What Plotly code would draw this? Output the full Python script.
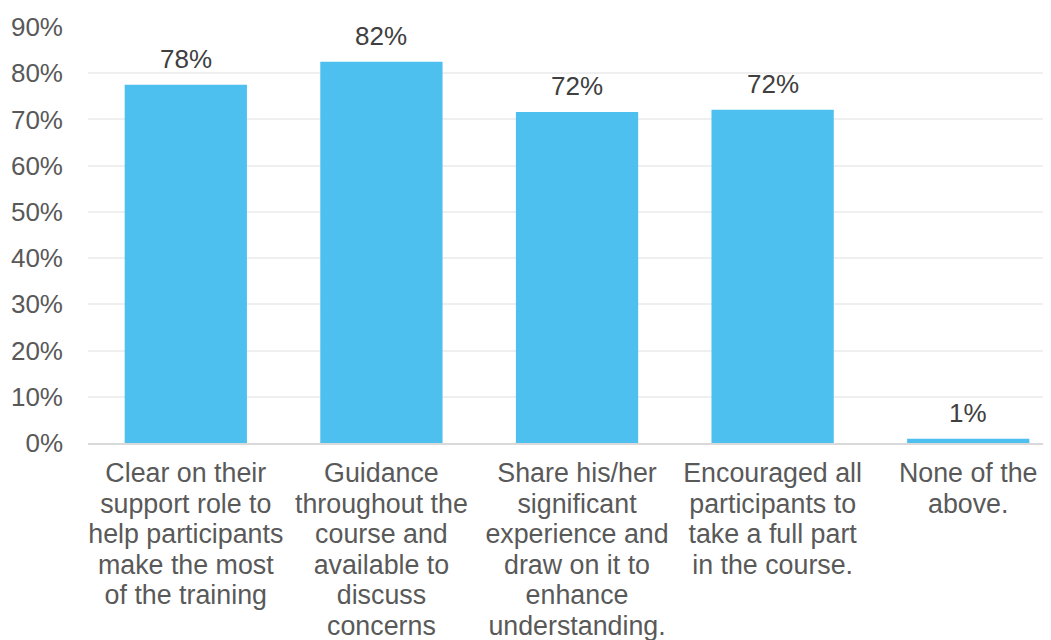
import plotly.graph_objects as go

categories = [
    ["Clear on their", "support role to", "help participants", "make the most", "of the training"],
    ["Guidance", "throughout the", "course and", "available to", "discuss", "concerns"],
    ["Share his/her", "significant", "experience and", "draw on it to", "enhance", "understanding."],
    ["Encouraged all", "participants to", "take a full part", "in the course."],
    ["None of the", "above."],
]
values = [0.775, 0.825, 0.716, 0.721, 0.009]
labels = ["78%", "82%", "72%", "72%", "1%"]
yticks = [0, 0.1, 0.2, 0.3, 0.4, 0.5, 0.6, 0.7, 0.8, 0.9]

FONT = "Liberation Sans, Arial, sans-serif"
GLYPH = 26.8  # glyph size; line spacing follows the tick font size

ticktext = ["<br>".join(f"<span style='font-size:{GLYPH}px'>{ln}</span>" for ln in c)
            for c in categories]

fig = go.Figure()
fig.add_trace(go.Bar(
    x=list(range(len(categories))), y=values,
    marker=dict(color="#4DC0EF", line=dict(width=0)),
    width=0.625,
    hoverinfo="skip",
))

for i, (v, t) in enumerate(zip(values, labels)):
    fig.add_annotation(x=i, y=v, text=t, showarrow=False, yanchor="bottom",
                       yshift=9, font=dict(family=FONT, size=26, color="#404040"))

# page body has an 8px margin, so offsets are shifted accordingly
fig.update_layout(
    width=1051, height=640,
    margin=dict(l=80, r=0, t=19, b=205),
    paper_bgcolor="white", plot_bgcolor="white",
    showlegend=False,
    font=dict(family=FONT, size=25, color="#595959"),
    bargap=0.375,
)
fig.update_xaxes(
    tickmode="array", tickvals=list(range(len(categories))), ticktext=ticktext,
    range=[-0.5, 4.464], showgrid=False, zeroline=False,
    showline=True, linecolor="#D9D9D9", linewidth=1.5,
    ticks="", tickangle=0, ticklabelstandoff=9, automargin=False,
    tickfont=dict(size=23.5),
)
fig.update_yaxes(
    range=[0, 0.9], tickvals=yticks, tickformat=".0%",
    showgrid=True, gridcolor="#EFEFEF", gridwidth=1.5,
    zeroline=False, showline=False, ticks="", ticklabelstandoff=24,
    automargin=False, tickfont=dict(size=26),
)

fig.write_html("out.html")
